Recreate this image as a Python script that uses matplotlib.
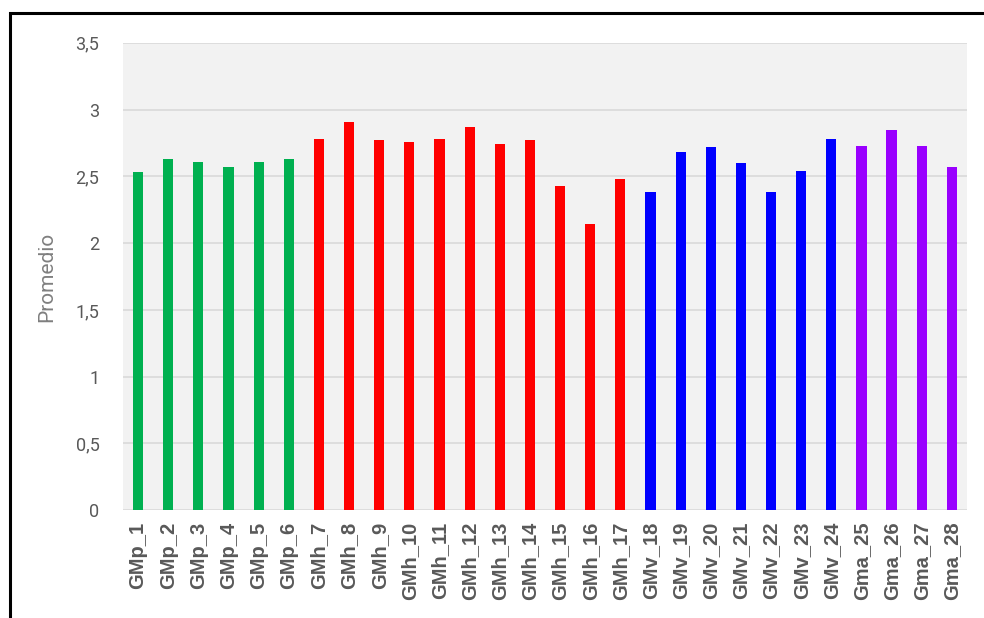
import matplotlib
matplotlib.use("Agg")
import matplotlib.pyplot as plt
from matplotlib.patches import Rectangle

# promedios por grupo
grupos = ["GMp_1", "GMp_2", "GMp_3", "GMp_4", "GMp_5", "GMp_6",
          "GMh_7", "GMh_8", "GMh_9", "GMh_10", "GMh_11", "GMh_12", "GMh_13",
          "GMh_14", "GMh_15", "GMh_16", "GMh_17",
          "GMv_18", "GMv_19", "GMv_20", "GMv_21", "GMv_22", "GMv_23", "GMv_24",
          "Gma_25", "Gma_26", "Gma_27", "Gma_28"]
promedio = [2.53, 2.63, 2.61, 2.57, 2.61, 2.63,
            2.78, 2.91, 2.77, 2.76, 2.78, 2.87, 2.74, 2.77, 2.43, 2.14, 2.48,
            2.38, 2.68, 2.72, 2.60, 2.38, 2.54, 2.78,
            2.73, 2.85, 2.73, 2.57]
yticks = [0, 0.5, 1, 1.5, 2, 2.5, 3, 3.5]
ytick_labels = ["0", "0,5", "1", "1,5", "2", "2,5", "3", "3,5"]

colores_tipo = {"GMp": "#00B050", "GMh": "#FF0000", "GMv": "#0000FF", "Gma": "#9900FF"}
colores = [colores_tipo[g.split("_")[0]] for g in grupos]

fig = plt.figure(figsize=(9.84, 6.18), dpi=100)
ax = fig.add_axes([0.125, 0.1743, 0.8577, 0.7566])
ax.set_facecolor("#F2F2F2")

x = list(range(len(grupos)))
ax.bar(x, promedio, width=0.34, color=colores, zorder=3)

ax.set_xlim(-0.5, len(grupos) - 0.5)
ax.set_ylim(0, 3.5)
ax.set_yticks(yticks)
ax.set_yticklabels(ytick_labels, family=["Roboto", "DejaVu Sans"],
                   fontsize=13, color="#595959")
ax.set_xticks(x)
ax.set_xticklabels(grupos, rotation=90, family=["Liberation Sans", "DejaVu Sans"],
                   fontsize=14.5, fontweight="bold", color="#595959")
ax.tick_params(axis="both", length=0)
ax.tick_params(axis="y", pad=17)
ax.tick_params(axis="x", pad=8)

ax.grid(axis="y", color="#D9D9D9", linewidth=1.2, zorder=0)
for s in ax.spines.values():
    s.set_visible(False)

ax.set_ylabel("Promedio", family=["Roboto", "DejaVu Sans"],
              fontsize=15, color="#7F7F7F", labelpad=14)

# marco negro alrededor del gráfico
fig.add_artist(Rectangle((9.5 / 984, -0.2), 1.2, 1.2 - 12.5 / 618,
                         transform=fig.transFigure, fill=False,
                         edgecolor="black", linewidth=2.2))

fig.savefig("out.png", dpi=100, facecolor="white")
